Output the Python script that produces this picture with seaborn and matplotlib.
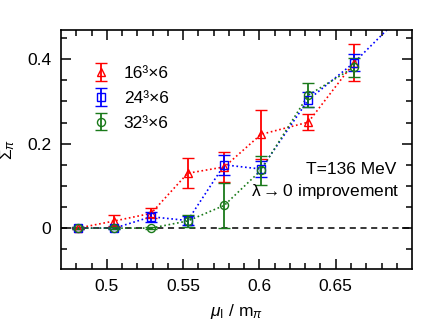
import numpy as np
import pandas as pd
import matplotlib
matplotlib.use("Agg")
import matplotlib.pyplot as plt
import seaborn as sns

# data
x16 = [0.481, 0.505, 0.529, 0.553, 0.577, 0.601, 0.632, 0.662]
y16 = [0.0, 0.017, 0.035, 0.130, 0.145, 0.222, 0.251, 0.392]
e16 = [0.003, 0.013, 0.012, 0.035, 0.035, 0.058, 0.019, 0.043]

x24 = [0.481, 0.505, 0.529, 0.553, 0.577, 0.601, 0.632, 0.662, 0.692]
y24 = [0.0, 0.0, 0.027, 0.018, 0.150, 0.140, 0.304, 0.392, 0.50]
e24 = [0.003, 0.003, 0.012, 0.010, 0.024, 0.020, 0.018, 0.020, 0.020]

x32 = [0.481, 0.505, 0.529, 0.553, 0.577, 0.601, 0.632, 0.662]
y32 = [0.0, 0.0, 0.0, 0.017, 0.054, 0.137, 0.315, 0.381]
e32 = [0.003, 0.003, 0.003, 0.015, 0.054, 0.035, 0.028, 0.022]

labels = ["16³×6", "24³×6", "32³×6"]
colors = ["#ff0000", "#0000ff", "#1a7a1a"]
markers = ["^", "s", "o"]

xticks = [0.5, 0.55, 0.6, 0.65]
xticklabels = ["0.5", "0.55", "0.6", "0.65"]
yticks = [0.0, 0.2, 0.4]
yticklabels = ["0", "0.2", "0.4"]

sns.set_style("ticks")
plt.rcParams["font.family"] = ["Liberation Sans", "DejaVu Sans"]
plt.rcParams["text.color"] = "black"
plt.rcParams["axes.labelcolor"] = "black"
plt.rcParams["mathtext.fontset"] = "custom"
plt.rcParams["mathtext.rm"] = "Liberation Sans"
plt.rcParams["mathtext.it"] = "Liberation Sans:italic"
plt.rcParams["mathtext.bf"] = "Liberation Sans:bold"

fig = plt.figure(figsize=(4.36, 3.31), dpi=100)
ax = fig.add_axes([0.140, 0.187, 0.805, 0.722])

series = [(x16, y16, e16), (x24, y24, e24), (x32, y32, e32)]

# dashed zero line
ax.axhline(0, color="black", lw=1.1, ls=(0, (4, 3)), zorder=1)

handles = []
for (xs, ys, es), lab, c, m in zip(series, labels, colors, markers):
    df = pd.DataFrame({"mu": xs, "sigma": ys})
    sns.lineplot(data=df, x="mu", y="sigma", ax=ax, color=c, lw=1.2,
                 dashes=False, legend=False, zorder=2)
    ax.lines[-1].set_linestyle((0, (1, 1.6)))
    h = ax.errorbar(xs, ys, yerr=es, fmt=m, color=c, mfc="none", mec=c,
                    ms=5.8, mew=1.0, elinewidth=1.3, capsize=4, capthick=1.3,
                    ls="none", label=lab, zorder=3)
    handles.append(h)

ax.set_xlim(0.47, 0.70)
ax.set_ylim(-0.097, 0.469)
ax.set_xticks(xticks)
ax.set_xticklabels(xticklabels)
ax.set_yticks(yticks)
ax.set_yticklabels(yticklabels)
ax.set_xticks(np.arange(0.48, 0.70, 0.01), minor=True)
ax.set_yticks(np.arange(-0.05, 0.46, 0.05), minor=True)
ax.tick_params(which="both", direction="in", top=True, right=True,
               labelsize=12.5, width=1.1, colors="black")
ax.tick_params(which="major", length=7, pad=7)
ax.tick_params(which="minor", length=4)
for sp in ax.spines.values():
    sp.set_linewidth(1.2)
    sp.set_visible(True)
    sp.set_color("black")

ax.set_xlabel(r"$\mu_{\rm I}$ / m$_\pi$", fontsize=12.5, labelpad=6)
ax.set_ylabel(r"$\Sigma_\pi$", fontsize=12.5)
ax.yaxis.set_label_coords(-0.125, 0.5)

leg = ax.legend(handles=handles, loc="upper left", frameon=False,
                fontsize=12.5, handlelength=1.0, handletextpad=0.8,
                labelspacing=0.55, bbox_to_anchor=(0.045, 0.915))

ax.text(0.955, 0.415, "T=136 MeV", transform=ax.transAxes, ha="right",
        va="center", fontsize=12.5)
ax.text(0.965, 0.325, r"λ${\rightarrow}$0 improvement", transform=ax.transAxes,
        ha="right", va="center", fontsize=12.5)

fig.savefig("out.png", dpi=100)
